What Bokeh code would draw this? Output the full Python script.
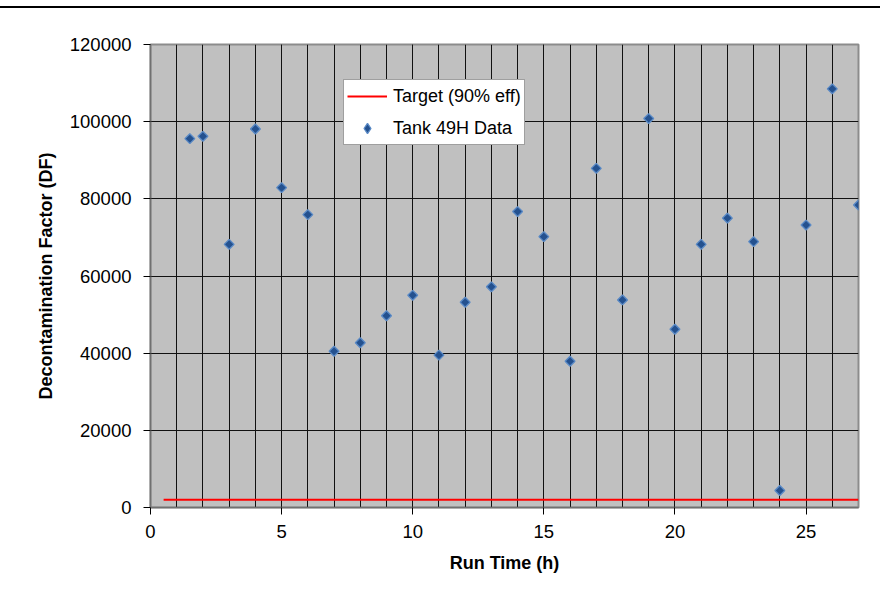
import math
from bokeh.plotting import figure
from bokeh.layouts import column
from bokeh.models import (Range1d, SingleIntervalTicker, NumeralTickFormatter,
                          Legend, LegendItem, Div)
from bokeh.embed import file_html
from bokeh.resources import INLINE

# ---- data ----
run_time = [1.5, 2, 3, 4, 5, 6, 7, 8, 9, 10, 11, 12, 13, 14, 15, 16, 17, 18,
            19, 20, 21, 22, 23, 24, 25, 26, 27]
tank_df = [95600, 96200, 68200, 98100, 82900, 75900, 40500, 42700, 49700,
           55000, 39500, 53200, 57200, 76700, 70200, 37900, 87900, 53800,
           100800, 46200, 68200, 75000, 68900, 4400, 73200, 108500, 78400]
target_x = [0.5, 27]
target_df = [2000, 2000]

FONT = "Liberation Sans"

p = figure(width=880, height=590, output_backend="svg", toolbar_location=None,
           x_range=Range1d(0, 27), y_range=Range1d(0, 120000),
           min_border_left=150, min_border_right=22, min_border_top=36,
           min_border_bottom=91)

p.background_fill_color = "#C0C0C0"
p.border_fill_color = "white"
p.outline_line_color = "#8C8C8C"
p.outline_line_width = 2

# axes
p.xaxis.ticker = SingleIntervalTicker(interval=5, num_minor_ticks=5)
p.yaxis.ticker = SingleIntervalTicker(interval=20000, num_minor_ticks=0)
p.yaxis.formatter = NumeralTickFormatter(format="0")
for ax in (p.xaxis, p.yaxis):
    ax.major_label_text_font = FONT
    ax.major_label_text_font_size = "18.5px"
    ax.major_label_text_color = "black"
    ax.axis_label_text_font = FONT
    ax.axis_label_text_font_size = "18px"
    ax.axis_label_text_font_style = "bold"
    ax.axis_label_text_color = "black"
    ax.axis_line_color = "#707070"
    ax.axis_line_width = 1.5
    ax.major_tick_line_color = "black"
    ax.major_tick_out = 7
    ax.major_tick_in = 0
    ax.minor_tick_line_color = None
p.xaxis.major_label_standoff = 10
p.yaxis.major_label_standoff = 12
p.xaxis.axis_label_standoff = 12
p.yaxis.axis_label_standoff = 11
p.xaxis.axis_label = "Run Time (h)"
p.yaxis.axis_label = "Decontamination Factor (DF)"

# grid
p.xgrid.grid_line_color = "#111111"
p.xgrid.grid_line_width = 1
p.xgrid.minor_grid_line_color = "#111111"
p.xgrid.minor_grid_line_width = 1
p.ygrid.grid_line_color = "#111111"
p.ygrid.grid_line_width = 1

# target line
r_target = p.line(target_x, target_df, line_color="#FF0000", line_width=2)

# data points (diamonds)
r_data = p.scatter(run_time, tank_df, marker="square", angle=math.pi / 4,
                   size=7, fill_color="#24518F", line_color="#5A8AC6",
                   line_width=1.3)
# hidden twin used only as the legend swatch (legend does not rotate markers)
r_swatch = p.scatter(run_time, tank_df, marker="diamond", fill_color="#24518F",
                     line_color="#5A8AC6", line_width=1.3, visible=False)

legend = Legend(items=[LegendItem(label="Target (90% eff)", renderers=[r_target]),
                       LegendItem(label="Tank 49H Data", renderers=[r_swatch])],
                location=(193, 362), orientation="vertical")
legend.label_text_font = FONT
legend.label_text_font_size = "18px"
legend.label_text_color = "black"
legend.glyph_width = 40
legend.glyph_height = 26
legend.label_height = 26
legend.label_standoff = 6
legend.spacing = 6
legend.padding = 3
legend.margin = 0
legend.border_line_color = "#404040"
legend.border_line_width = 1.5
legend.background_fill_color = "white"
legend.background_fill_alpha = 1
legend.inactive_fill_alpha = 0
legend.click_policy = "none"
p.add_layout(legend, "center")

# thin rule at the very top of the page
rule = Div(text="", width=880, height=8, margin=0,
           styles={"box-sizing": "border-box",
                   "border-bottom": "2px solid #000000",
                   "width": "880px", "height": "8px"})

layout = column(rule, p, spacing=0, margin=0)
open("out.html", "w").write(file_html(layout, INLINE))
